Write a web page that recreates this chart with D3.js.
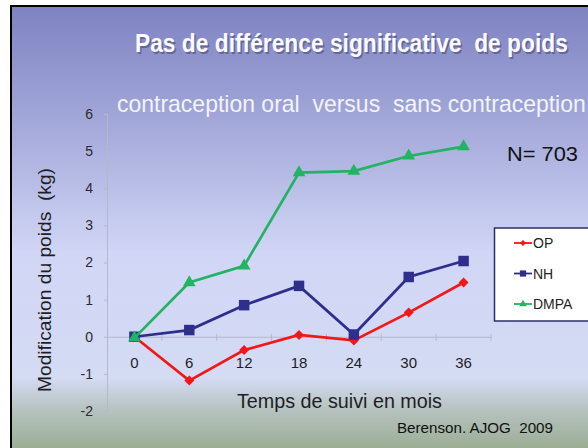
<!DOCTYPE html>
<html>
<head>
<meta charset="utf-8">
<script src="https://cdn.jsdelivr.net/npm/d3@7"></script>
<style>
  body { margin: 0; background: #fff; }
  svg { display: block; font-family: "Liberation Sans", Arial, sans-serif; }
  text { white-space: pre; }
</style>
</head>
<body>
<div id="chart"></div>
<script>
// données
var months = [0, 6, 12, 18, 24, 30, 36];
var seriesNames = ["OP", "NH", "DMPA"];
var opValues = [0, -1.18, -0.36, 0.05, -0.1, 0.65, 1.46];
var nhValues = [0, 0.18, 0.85, 1.37, 0.06, 1.61, 2.04];
var dmpaValues = [-0.03, 1.46, 1.91, 4.42, 4.46, 4.87, 5.12];
var yTicks = [-2, -1, 0, 1, 2, 3, 4, 5, 6];

var W = 588, H = 448;

var series = [
  { name: seriesNames[0], values: opValues, color: "#f01818", symbol: d3.symbolSquare, size: 50, rotate: 45 },
  { name: seriesNames[1], values: nhValues, color: "#2e2e8c", symbol: d3.symbolSquare, size: 110, rotate: 0 },
  { name: seriesNames[2], values: dmpaValues, color: "#22b363", symbol: d3.symbolTriangle, size: 70, rotate: 0 }
];

var svg = d3.select("#chart").append("svg")
  .attr("width", W)
  .attr("height", H);

// fond dégradé
var grad = svg.append("defs").append("linearGradient")
  .attr("id", "bg")
  .attr("x1", 0).attr("y1", 0).attr("x2", 0).attr("y2", 1);
[[0, "#7e82c1"], [0.3, "#a9aedd"], [0.55, "#d1d6f6"], [0.83, "#d4dbf3"],
 [0.9, "#b6c3c0"], [1, "#98aa8e"]].forEach(function (s) {
  grad.append("stop").attr("offset", s[0]).attr("stop-color", s[1]);
});

svg.append("rect")
  .attr("x", 11).attr("y", 6)
  .attr("width", W).attr("height", H)
  .attr("fill", "url(#bg)")
  .attr("stroke", "#000")
  .attr("stroke-width", 2);

// scales
var x = d3.scaleBand().domain(months).range([107, 491]);
var y = d3.scaleLinear().domain([-2, 6]).range([411, 114]);
var cx = function (i) { return x(months[i]) + x.bandwidth() / 2; };

// texte condensé : on mesure puis on comprime en largeur
function squeeze(sel, x0, y0, width) {
  var len = sel.node().getComputedTextLength();
  sel.attr("transform", "translate(" + x0 + "," + y0 + ") scale(" + (width / len) + ",1)");
  return sel;
}

// titre
var title = "Pas de différence significative  de poids";
squeeze(svg.append("text")
  .attr("font-size", 25).attr("font-weight", "bold")
  .attr("fill", "#5a5e88").attr("opacity", 0.8)
  .text(title), 136.5, 53.5, 433);
squeeze(svg.append("text")
  .attr("font-size", 25).attr("font-weight", "bold")
  .attr("fill", "#fafaff")
  .text(title), 135, 52, 433);

squeeze(svg.append("text")
  .attr("font-size", 23)
  .attr("fill", "#f2f3fb")
  .text("contraception oral  versus  sans contraception"), 117, 112, 469);

// axe y
var yAxis = svg.append("g")
  .attr("transform", "translate(107,0)")
  .call(d3.axisLeft(y).tickValues(yTicks).tickFormat(function (d) { return String(d); })
    .tickSize(3).tickPadding(11).tickSizeOuter(0));
yAxis.select(".domain").attr("stroke", "#b4b8cc");
yAxis.selectAll(".tick line").attr("stroke", "#b4b8cc");
yAxis.selectAll("text")
  .attr("font-size", 14).attr("fill", "#2a2a33")
  .attr("font-family", "Liberation Sans, Arial, sans-serif");

// axe x
var xAxis = svg.append("g")
  .attr("transform", "translate(0," + y(0) + ")")
  .call(d3.axisBottom(x).tickSize(0).tickPadding(21));
xAxis.select(".domain").attr("stroke", "#b4b8cc");
xAxis.selectAll("text")
  .attr("font-size", 15).attr("fill", "#1e1e28")
  .attr("font-family", "Liberation Sans, Arial, sans-serif");
xAxis.selectAll(".sep")
  .data(months.slice(1).concat(["end"]))
  .enter().append("line")
  .attr("x1", function (d) { return d === "end" ? x.range()[1] : x(d); })
  .attr("x2", function (d) { return d === "end" ? x.range()[1] : x(d); })
  .attr("y1", -3).attr("y2", 4)
  .attr("stroke", "#b4b8cc");

// titres des axes
svg.append("text")
  .attr("x", 237).attr("y", 408)
  .attr("font-size", 20).attr("fill", "#1e1e24")
  .attr("textLength", 205).attr("lengthAdjust", "spacingAndGlyphs")
  .text("Temps de suivi en mois");

svg.append("text")
  .attr("transform", "translate(51,280) rotate(-90)")
  .attr("text-anchor", "middle")
  .attr("font-size", 19).attr("fill", "#1e1e24")
  .attr("textLength", 224).attr("lengthAdjust", "spacingAndGlyphs")
  .text("Modification du poids  (kg)");

// lignes
var line = d3.line()
  .x(function (d, i) { return cx(i); })
  .y(function (d) { return y(d); });

series.forEach(function (s) {
  var g = svg.append("g");
  g.append("path")
    .attr("d", line(s.values))
    .attr("fill", "none")
    .attr("stroke", s.color)
    .attr("stroke-width", 2.7);
  g.selectAll("path.mk")
    .data(s.values)
    .enter().append("path")
    .attr("class", "mk")
    .attr("d", d3.symbol().type(s.symbol).size(s.size))
    .attr("transform", function (d, i) {
      return "translate(" + cx(i) + "," + y(d) + ") rotate(" + s.rotate + ")";
    })
    .attr("fill", s.color);
});

// N
svg.append("text")
  .attr("x", 507).attr("y", 161)
  .attr("font-size", 21).attr("fill", "#111")
  .attr("textLength", 71).attr("lengthAdjust", "spacingAndGlyphs")
  .text("N= 703");

// légende
var legend = svg.append("g");
legend.append("rect")
  .attr("x", 494.5).attr("y", 228)
  .attr("width", 110).attr("height", 93)
  .attr("fill", "#ffffff")
  .attr("stroke", "#2c2c66")
  .attr("stroke-width", 1.5);
var item = legend.selectAll("g.item")
  .data(series)
  .enter().append("g")
  .attr("class", "item")
  .attr("transform", function (d, i) { return "translate(0," + (243 + i * 30.5) + ")"; });
item.append("line")
  .attr("x1", 514).attr("x2", 532)
  .attr("stroke", function (d) { return d.color; })
  .attr("stroke-width", 1.8);
item.append("path")
  .attr("d", function (d) { return d3.symbol().type(d.symbol).size(d.size * 0.35)(); })
  .attr("transform", function (d) { return "translate(523,0) rotate(" + d.rotate + ")"; })
  .attr("fill", function (d) { return d.color; });
item.append("text")
  .attr("x", 533).attr("y", 5)
  .attr("font-size", 14).attr("fill", "#1e1e24")
  .text(function (d) { return d.name; });

// source
svg.append("text")
  .attr("x", 397).attr("y", 433)
  .attr("font-size", 14).attr("fill", "#111")
  .attr("textLength", 156).attr("lengthAdjust", "spacingAndGlyphs")
  .text("Berenson. AJOG  2009");
</script>
</body>
</html>
